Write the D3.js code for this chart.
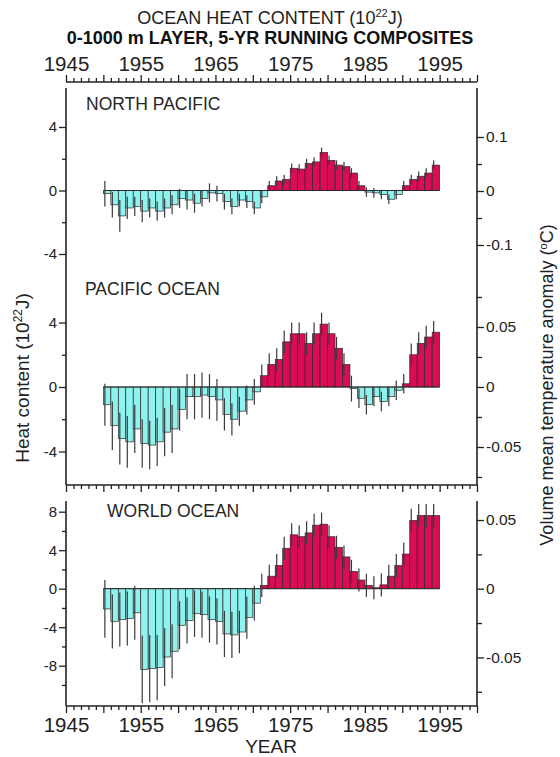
<!DOCTYPE html>
<html><head><meta charset="utf-8">
<script src="https://cdn.jsdelivr.net/npm/d3@7"></script>
<style>
html,body{margin:0;padding:0;background:#fff;}
svg{display:block;font-family:"Liberation Sans",Arial,sans-serif;}
</style></head>
<body><svg id="c" width="560" height="757"></svg>
<script>
// ---- data ----
const years = [1950,1951,1952,1953,1954,1955,1956,1957,1958,1959,1960,1961,1962,1963,1964,1965,1966,1967,1968,1969,1970,1971,1972,1973,1974,1975,1976,1977,1978,1979,1980,1981,1982,1983,1984,1985,1986,1987,1988,1989,1990,1991,1992,1993,1994];
const northPacific = [-0.2,-0.9,-1.6,-1.1,-1.0,-1.3,-1.1,-1.3,-1.1,-0.9,-0.5,-0.6,-0.8,-0.5,-0.15,-0.2,-0.7,-1.0,-0.6,-0.7,-1.1,-0.4,0.3,0.6,0.7,1.4,1.35,1.7,1.8,2.4,1.9,1.6,1.5,1.1,0.3,-0.1,-0.15,-0.25,-0.55,-0.25,0.3,0.7,0.9,1.1,1.6];
const northPacificErr = [0.8,0.8,1.0,0.7,0.6,0.7,0.6,0.6,0.6,0.6,0.6,0.6,0.6,0.5,0.6,0.5,0.5,0.5,0.4,0.4,0.4,0.4,0.3,0.3,0.3,0.3,0.3,0.3,0.3,0.3,0.3,0.3,0.3,0.3,0.3,0.3,0.3,0.3,0.3,0.3,0.3,0.3,0.3,0.3,0.3];
const pacific = [-1.1,-2.4,-3.2,-3.4,-2.6,-3.5,-3.6,-3.4,-2.8,-2.6,-1.4,-0.6,-0.6,-0.5,-0.6,-0.8,-1.7,-2.0,-1.5,-0.8,-0.3,0.7,1.4,1.7,2.8,3.3,3.3,2.7,3.3,3.9,3.3,2.4,1.4,-0.1,-0.7,-1.1,-0.6,-0.9,-0.6,-0.2,0.2,2.0,2.7,3.1,3.4];
const pacificErr = [1.3,1.5,1.6,1.6,1.5,1.5,1.5,1.5,1.5,1.5,1.3,1.4,1.4,1.4,1.4,1.3,1.0,1.0,0.9,0.9,0.8,0.7,0.7,0.7,0.7,0.7,0.7,0.7,0.7,0.7,0.7,0.7,0.7,0.8,0.6,0.6,0.6,0.6,0.6,0.6,0.6,0.7,0.7,0.7,0.7];
const world = [-2.1,-3.4,-3.2,-3.1,-2.5,-8.4,-8.3,-8.2,-7.1,-6.5,-3.8,-3.3,-2.6,-2.7,-3.2,-3.4,-4.7,-4.8,-4.5,-3.0,-1.5,0.35,1.3,2.4,4.2,5.6,5.4,5.8,6.6,6.7,5.4,4.3,3.3,1.8,0.9,0.35,0.1,0.4,1.3,2.4,3.6,7.1,7.6,7.6,7.6];
const worldErr = [3.0,2.8,2.8,2.8,2.8,3.5,3.5,3.4,3.0,2.8,2.5,2.4,2.4,2.4,2.4,2.4,2.4,2.4,2.2,2.2,1.8,1.2,1.2,1.2,1.2,1.2,1.2,1.2,1.2,1.2,1.2,1.2,1.2,1.2,1.2,1.2,1.2,1.2,1.2,1.2,1.2,1.2,1.2,1.2,1.2];
const yearLabels = [1945,1955,1965,1975,1985,1995];
const titleLine1 = "OCEAN HEAT CONTENT (10";
const titleLine2 = "0-1000 m LAYER, 5-YR RUNNING COMPOSITES";
const panelNames = ["NORTH PACIFIC","PACIFIC OCEAN","WORLD OCEAN"];

// ---- drawing ----
const svg = d3.select("#c");
const POS = "#da0c55", NEG = "#8ef2ee", EDGE = "#2a2a2a";
const x = d3.scaleLinear().domain([1945,2000]).range([66,477]);
const majorYears = d3.range(1945,2001,5), minorYears = d3.range(1945,2001,1).filter(y=>y%5);

const panels = [
  {name:panelNames[0], vals:northPacific, err:northPacificErr,
   y:d3.scaleLinear().domain([-4,4]).range([254,127]),
   t:d3.scaleLinear().domain([-0.1,0.1]).range([245,137]),
   lMajor:[-4,0,4], lMinor:[-2,2], rMajor:[-0.1,0,0.1], rMinor:[-0.05,0.05],
   label:[86,110]},
  {name:panelNames[1], vals:pacific, err:pacificErr,
   y:d3.scaleLinear().domain([-4,4]).range([451.5,322.5]),
   t:d3.scaleLinear().domain([-0.05,0.05]).range([447,327]),
   lMajor:[-4,0,4], lMinor:[-2,2], rMajor:[-0.05,0,0.05], rMinor:[-0.075,-0.025,0.025,0.075],
   label:[85,295]},
  {name:panelNames[2], vals:world, err:worldErr,
   y:d3.scaleLinear().domain([-8,8]).range([665.7,511.7]),
   t:d3.scaleLinear().domain([-0.05,0.05]).range([657.4,520]),
   lMajor:[-8,-4,0,4,8], lMinor:[-10,-6,-2,2,6], rMajor:[-0.05,0,0.05], rMinor:[-0.075,-0.025,0.025],
   label:[107,517]}
];

const fmt = d => String(d);
function styleAxis(g, fs){
  g.select(".domain").remove();
  g.selectAll(".tick line").attr("stroke","#222").attr("stroke-width",1.3);
  g.selectAll(".tick text").attr("fill","#222").style("font-size",fs+"px").style("font-family",'"Liberation Sans",Arial,sans-serif');
}

panels.forEach(p=>{
  const g = svg.append("g");
  g.selectAll("rect.bar").data(years).join("rect")
    .attr("x", (d)=>x(d))
    .attr("width", x(1951)-x(1950))
    .attr("y", (d,i)=>p.y(Math.max(0,p.vals[i])))
    .attr("height", (d,i)=>Math.abs(p.y(p.vals[i])-p.y(0)))
    .attr("fill",(d,i)=>p.vals[i]>=0?POS:NEG)
    .attr("stroke",EDGE).attr("stroke-width",0.7);
  g.append("line").attr("x1",x(1950)).attr("x2",x(1995)).attr("y1",p.y(0)).attr("y2",p.y(0))
    .attr("stroke",EDGE).attr("stroke-width",1);
  g.selectAll("line.err").data(years).join("line")
    .attr("x1",d=>x(d+0.2)).attr("x2",d=>x(d+0.2))
    .attr("y1",(d,i)=>p.y(p.vals[i]+p.err[i])).attr("y2",(d,i)=>p.y(p.vals[i]-p.err[i]))
    .attr("stroke","#3a3a3a").attr("stroke-width",1.2);
  const la = g.append("g").attr("transform","translate(66,0)")
    .call(d3.axisLeft(p.y).tickValues(p.lMajor).tickSize(7).tickPadding(2).tickFormat(fmt));
  styleAxis(la,15);
  const lm = g.append("g").attr("transform","translate(66,0)")
    .call(d3.axisLeft(p.y).tickValues(p.lMinor).tickSize(4).tickFormat(""));
  styleAxis(lm,15);
  const ra = g.append("g").attr("transform","translate(477,0)")
    .call(d3.axisRight(p.t).tickValues(p.rMajor).tickSize(7).tickPadding(2).tickFormat(fmt));
  styleAxis(ra,15.5);
  const rm = g.append("g").attr("transform","translate(477,0)")
    .call(d3.axisRight(p.t).tickValues(p.rMinor).tickSize(5).tickFormat(""));
  styleAxis(rm,15);
  g.append("text").attr("x",p.label[0]).attr("y",p.label[1]).text(p.name)
    .attr("fill","#262626").style("font-size","17.5px");
});

const frame = svg.append("g").attr("stroke","#222").attr("stroke-width",1.6).attr("fill","none");
frame.append("line").attr("x1",66).attr("x2",66).attr("y1",88).attr("y2",485);
frame.append("line").attr("x1",477).attr("x2",477).attr("y1",88).attr("y2",485);
frame.append("line").attr("x1",66).attr("x2",477).attr("y1",485).attr("y2",485);
frame.append("line").attr("x1",66).attr("x2",66).attr("y1",501).attr("y2",706);
frame.append("line").attr("x1",477).attr("x2",477).attr("y1",501).attr("y2",706);
frame.append("line").attr("x1",66).attr("x2",477).attr("y1",706).attr("y2",706);
frame.append("line").attr("x1",66).attr("x2",477).attr("y1",82).attr("y2",82);

function yearAxis(yPos, dirUp, labels){
  const mk = dirUp ? d3.axisTop : d3.axisBottom;
  const a = svg.append("g").attr("transform",`translate(0,${yPos})`)
    .call(mk(x).tickValues(majorYears).tickSize(7).tickPadding(4)
      .tickFormat(d=> labels && yearLabels.includes(d) ? String(d) : ""));
  styleAxis(a,20.5);
  const m = svg.append("g").attr("transform",`translate(0,${yPos})`)
    .call(mk(x).tickValues(minorYears).tickSize(4).tickFormat(""));
  styleAxis(m,20);
}
yearAxis(82,true,true);
yearAxis(485,false,false);
yearAxis(706,false,true);

const t1 = svg.append("text").attr("x",270).attr("y",24).attr("text-anchor","middle")
  .attr("fill","#1e1e1e").style("font-size","18px");
t1.append("tspan").text(titleLine1);
t1.append("tspan").text("22").style("font-size","11px").attr("dy",-7);
t1.append("tspan").text("J)").attr("dy",7);
svg.append("text").attr("x",270).attr("y",44).attr("text-anchor","middle")
  .attr("fill","#111").style("font-size","18px").style("font-weight","bold").text(titleLine2);
svg.append("text").attr("x",271).attr("y",753).attr("text-anchor","middle")
  .attr("fill","#222").style("font-size","19px").text("YEAR");

const lt = svg.append("text").attr("transform","translate(29,378) rotate(-90)").attr("text-anchor","middle")
  .attr("fill","#222").style("font-size","19px");
lt.append("tspan").text("Heat content (10");
lt.append("tspan").text("22").style("font-size","12px").attr("dy",-7);
lt.append("tspan").text("J)").attr("dy",7);
const rt = svg.append("text").attr("transform","translate(553,385) rotate(-90)").attr("text-anchor","middle")
  .attr("fill","#222").style("font-size","18px");
rt.append("tspan").text("Volume mean temperature anomaly (");
rt.append("tspan").text("o").style("font-size","11px").attr("dy",-6);
rt.append("tspan").text("C)").attr("dy",6);
</script></body></html>
